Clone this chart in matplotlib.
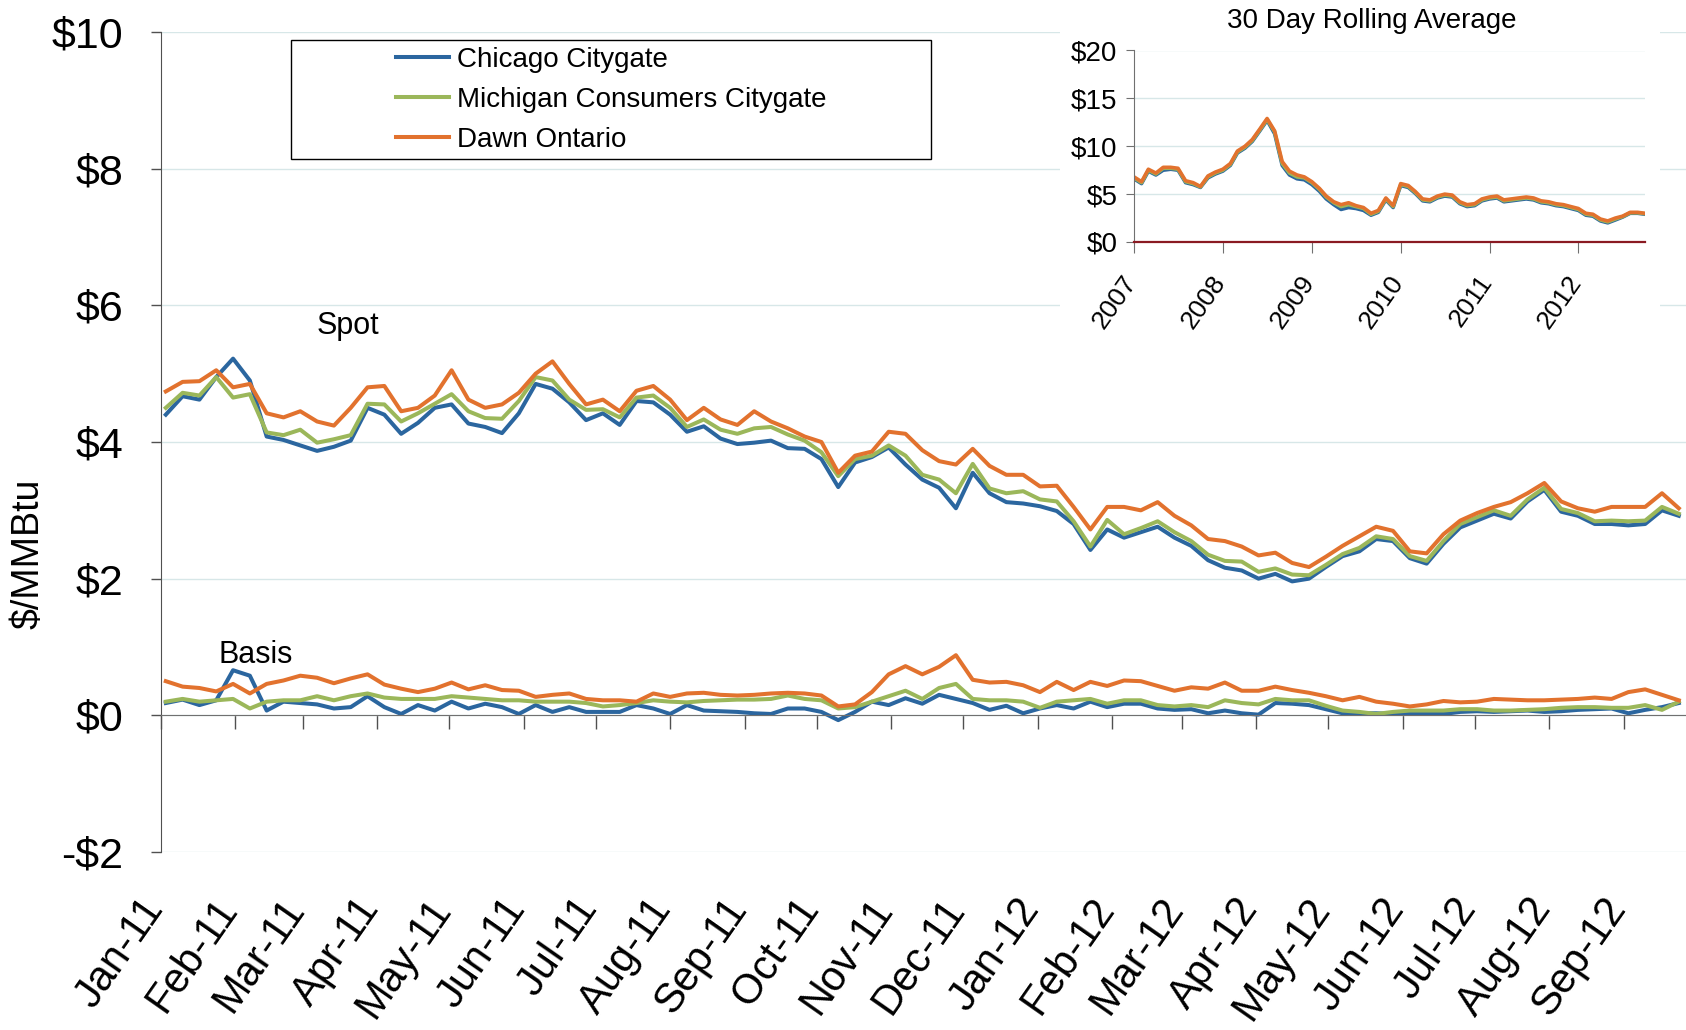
import numpy as np
import pandas as pd
import matplotlib
matplotlib.use('Agg')
import matplotlib.pyplot as plt
import matplotlib.dates as mdates
import matplotlib.transforms as mtransforms
from matplotlib.patches import Rectangle

plt.rcParams['font.family'] = ['Liberation Sans', 'DejaVu Sans']

# weekly prices, $/MMBtu, first Monday of 2011 onwards
week_start = '2011-01-03'
n_weeks = 91

chicago_spot = [
    4.40, 4.67, 4.62, 4.95, 5.22, 4.90, 4.08, 4.03, 3.95, 3.87, 3.93, 4.02, 4.50, 4.40, 4.12, 4.28,
    4.50, 4.55, 4.27, 4.22, 4.13, 4.42, 4.85, 4.78, 4.58, 4.32, 4.42, 4.25, 4.60, 4.58, 4.40,
    4.15, 4.23, 4.05, 3.97, 3.99, 4.02, 3.91, 3.90, 3.75, 3.34, 3.70, 3.78, 3.92, 3.67, 3.45,
    3.33, 3.03, 3.55, 3.25, 3.12, 3.10, 3.06, 2.99, 2.80, 2.42, 2.72, 2.60, 2.68, 2.76, 2.60,
    2.48, 2.27, 2.16, 2.12, 2.00, 2.07, 1.96, 2.00, 2.17, 2.33, 2.40, 2.58, 2.55, 2.30, 2.22,
    2.51, 2.75, 2.85, 2.95, 2.88, 3.13, 3.30, 2.98, 2.92, 2.80, 2.80, 2.78, 2.80, 3.00, 2.92,
]
michigan_spot = [
    4.50, 4.72, 4.68, 4.95, 4.65, 4.70, 4.14, 4.10, 4.18, 3.99, 4.04, 4.10, 4.56, 4.55, 4.30, 4.42,
    4.56, 4.70, 4.45, 4.35, 4.34, 4.60, 4.95, 4.90, 4.62, 4.47, 4.48, 4.36, 4.65, 4.68, 4.50,
    4.22, 4.33, 4.18, 4.12, 4.20, 4.22, 4.11, 4.02, 3.85, 3.50, 3.75, 3.80, 3.95, 3.80, 3.52,
    3.45, 3.25, 3.68, 3.32, 3.25, 3.28, 3.16, 3.13, 2.84, 2.47, 2.86, 2.65, 2.74, 2.84, 2.68,
    2.55, 2.35, 2.26, 2.25, 2.10, 2.15, 2.06, 2.05, 2.20, 2.36, 2.45, 2.62, 2.58, 2.33, 2.26,
    2.55, 2.80, 2.90, 3.00, 2.92, 3.16, 3.33, 3.02, 2.96, 2.84, 2.85, 2.84, 2.85, 3.05, 2.95,
]
dawn_spot = [
    4.74, 4.88, 4.89, 5.05, 4.80, 4.85, 4.42, 4.36, 4.45, 4.30, 4.24, 4.50, 4.80, 4.82, 4.45, 4.50,
    4.68, 5.05, 4.62, 4.50, 4.55, 4.72, 5.00, 5.18, 4.85, 4.55, 4.62, 4.45, 4.75, 4.82, 4.62,
    4.32, 4.50, 4.33, 4.25, 4.45, 4.30, 4.20, 4.08, 4.00, 3.55, 3.80, 3.86, 4.15, 4.12, 3.88,
    3.72, 3.67, 3.90, 3.65, 3.52, 3.52, 3.35, 3.36, 3.05, 2.72, 3.05, 3.05, 3.00, 3.12, 2.92,
    2.78, 2.58, 2.55, 2.47, 2.34, 2.38, 2.23, 2.17, 2.32, 2.48, 2.62, 2.76, 2.70, 2.40, 2.37,
    2.65, 2.85, 2.96, 3.05, 3.12, 3.25, 3.40, 3.13, 3.03, 2.98, 3.05, 3.05, 3.05, 3.25, 3.03,
]

chicago_basis = [
    0.18, 0.23, 0.15, 0.22, 0.66, 0.58, 0.07, 0.20, 0.18, 0.16, 0.10, 0.12, 0.28, 0.12, 0.02, 0.15,
    0.07, 0.20, 0.10, 0.17, 0.12, 0.02, 0.15, 0.05, 0.12, 0.05, 0.05, 0.05, 0.15, 0.10, 0.02,
    0.15, 0.07, 0.06, 0.05, 0.03, 0.02, 0.10, 0.10, 0.05, -0.07, 0.05, 0.20, 0.15, 0.25, 0.17,
    0.30, 0.24, 0.18, 0.08, 0.14, 0.03, 0.10, 0.15, 0.10, 0.20, 0.12, 0.17, 0.17, 0.10, 0.08,
    0.09, 0.03, 0.07, 0.03, 0.01, 0.18, 0.17, 0.15, 0.09, 0.03, 0.03, 0.03, 0.02, 0.02, 0.02,
    0.02, 0.05, 0.06, 0.05, 0.06, 0.07, 0.05, 0.06, 0.08, 0.09, 0.10, 0.03, 0.08, 0.12, 0.18,
]
michigan_basis = [
    0.20, 0.24, 0.20, 0.22, 0.24, 0.10, 0.20, 0.22, 0.22, 0.28, 0.22, 0.28, 0.32, 0.26, 0.24, 0.24,
    0.24, 0.28, 0.26, 0.24, 0.22, 0.22, 0.20, 0.20, 0.20, 0.18, 0.13, 0.15, 0.18, 0.22, 0.20,
    0.19, 0.21, 0.22, 0.23, 0.23, 0.24, 0.29, 0.24, 0.22, 0.10, 0.12, 0.20, 0.28, 0.36, 0.24,
    0.40, 0.46, 0.24, 0.22, 0.22, 0.20, 0.11, 0.20, 0.22, 0.24, 0.17, 0.22, 0.22, 0.15, 0.13,
    0.15, 0.12, 0.22, 0.18, 0.16, 0.24, 0.22, 0.22, 0.14, 0.07, 0.05, 0.02, 0.05, 0.07, 0.07,
    0.07, 0.09, 0.09, 0.07, 0.07, 0.08, 0.09, 0.11, 0.12, 0.12, 0.11, 0.11, 0.15, 0.08, 0.20,
]
dawn_basis = [
    0.50, 0.42, 0.40, 0.35, 0.46, 0.32, 0.46, 0.51, 0.58, 0.55, 0.47, 0.54, 0.60, 0.45, 0.39, 0.34,
    0.39, 0.48, 0.38, 0.44, 0.37, 0.36, 0.27, 0.30, 0.32, 0.24, 0.22, 0.22, 0.20, 0.32, 0.27,
    0.32, 0.33, 0.30, 0.29, 0.30, 0.32, 0.33, 0.32, 0.29, 0.13, 0.16, 0.34, 0.60, 0.72, 0.60,
    0.71, 0.88, 0.52, 0.48, 0.49, 0.44, 0.34, 0.49, 0.37, 0.49, 0.43, 0.51, 0.50, 0.43, 0.36,
    0.41, 0.39, 0.48, 0.36, 0.36, 0.42, 0.37, 0.33, 0.28, 0.22, 0.27, 0.20, 0.17, 0.13, 0.16,
    0.21, 0.19, 0.20, 0.24, 0.23, 0.22, 0.22, 0.23, 0.24, 0.26, 0.24, 0.34, 0.38, 0.30, 0.22,
]

# 30 day rolling average, monthly from Jan 2007
roll_start = '2007-01-01'
chicago_roll = [
    6.6, 6.1, 7.4, 7.0, 7.5, 7.6, 7.5, 6.2, 6.0, 5.7, 6.7, 7.1,
    7.4, 8.0, 9.3, 9.8, 10.5, 11.6, 12.7, 11.3, 8.0, 7.0, 6.6, 6.5,
    6.0, 5.3, 4.5, 3.9, 3.4, 3.6, 3.5, 3.3, 2.8, 3.1, 4.4, 3.6,
    5.9, 5.7, 5.1, 4.3, 4.2, 4.6, 4.8, 4.7, 4.0, 3.7, 3.8, 4.3,
    4.5, 4.6, 4.2, 4.3, 4.4, 4.5, 4.4, 4.1, 4.0, 3.8, 3.7, 3.5,
    3.3, 2.8, 2.7, 2.2, 2.0, 2.3, 2.6, 3.0, 3.0, 2.9,
]
michigan_roll = [
    6.7, 6.2, 7.5, 7.1, 7.7, 7.7, 7.6, 6.3, 6.1, 5.75, 6.8, 7.2,
    7.5, 8.1, 9.4, 9.9, 10.6, 11.7, 12.8, 11.5, 8.2, 7.2, 6.8, 6.7,
    6.2, 5.5, 4.7, 4.1, 3.7, 3.9, 3.7, 3.5, 2.9, 3.2, 4.5, 3.7,
    6.0, 5.8, 5.2, 4.4, 4.3, 4.7, 4.9, 4.8, 4.1, 3.8, 3.9, 4.4,
    4.6, 4.7, 4.3, 4.4, 4.5, 4.6, 4.5, 4.2, 4.1, 3.9, 3.8, 3.6,
    3.4, 2.9, 2.8, 2.3, 2.1, 2.4, 2.65, 3.05, 3.05, 2.95,
]
dawn_roll = [
    6.8, 6.3, 7.6, 7.2, 7.8, 7.8, 7.7, 6.4, 6.2, 5.8, 6.9, 7.3,
    7.6, 8.2, 9.5, 10.0, 10.7, 11.8, 12.9, 11.6, 8.4, 7.4, 7.0, 6.8,
    6.3, 5.6, 4.8, 4.2, 3.9, 4.1, 3.8, 3.6, 3.0, 3.3, 4.6, 3.8,
    6.1, 5.9, 5.3, 4.5, 4.4, 4.8, 5.0, 4.9, 4.2, 3.9, 4.0, 4.5,
    4.7, 4.8, 4.4, 4.5, 4.6, 4.7, 4.6, 4.3, 4.2, 4.0, 3.9, 3.7,
    3.5, 3.0, 2.9, 2.4, 2.2, 2.5, 2.7, 3.1, 3.1, 3.0,
]

names = ['Chicago Citygate', 'Michigan Consumers Citygate', 'Dawn Ontario']
colors = ['#2b669f', '#9bb75a', '#e2722e']
grid_col = '#d7e7e8'

dates = pd.date_range(week_start, periods=n_weeks, freq='7D')
roll_dates = pd.date_range(roll_start, periods=len(dawn_roll), freq='MS')

W, H = 1686, 1030
fig = plt.figure(figsize=(W / 100, H / 100), dpi=100)

# ---- main chart ----
ax = fig.add_axes([161 / W, 1 - 852 / H, (W - 161) / W, (852 - 32) / H])
spots = [chicago_spot, michigan_spot, dawn_spot]
bases = [chicago_basis, michigan_basis, dawn_basis]
lines = []
for name, c, s, b in zip(names, colors, spots, bases):
    l, = ax.plot(dates, s, color=c, lw=2.9, label=name)
    ax.plot(dates, b, color=c, lw=2.9)
    lines.append(l)

ax.set_xlim(pd.Timestamp('2011-01-01'), pd.Timestamp('2012-09-27'))
ax.set_ylim(-2, 10)
yt = [-2, 0, 2, 4, 6, 8, 10]
ax.set_yticks(yt)
ax.set_yticklabels([('-$%d' % abs(v)) if v < 0 else ('$%d' % v) for v in yt], fontsize=31)
ax.grid(axis='y', color=grid_col, lw=1)
ax.set_axisbelow(True)
for s in ['top', 'right']:
    ax.spines[s].set_visible(False)
ax.spines['left'].set_color('#505050')
ax.spines['bottom'].set_position(('data', 0))
ax.spines['bottom'].set_color('#707070')
ax.tick_params(axis='y', length=7, width=1, color='#505050', pad=20)

months = pd.date_range('2011-01-01', '2012-09-01', freq='MS')
ax.set_xticks(months)
ax.set_xticklabels([])
ax.tick_params(axis='x', length=10, width=1, color='#505050', direction='out')
lab_tr = mtransforms.offset_copy(ax.get_xaxis_transform(), fig=fig, x=-6, y=-50, units='dots')
for m in months:
    ax.text(m, 0, m.strftime('%b-%y'), transform=lab_tr, rotation=55, rotation_mode='anchor',
            ha='right', va='center', fontsize=30)

ax.text(pd.Timestamp('2011-03-07'), 5.70, 'Spot', fontsize=22, va='center', ha='left')
ax.text(pd.Timestamp('2011-01-25'), 0.89, 'Basis', fontsize=22, va='center', ha='left')

fig.text(29 / W, 1 - 554 / H, '$/MMBtu', rotation=90, ha='center', va='center', fontsize=27)

# legend box
fig.patches.append(Rectangle((291 / W, 1 - 159 / H), 640 / W, 119 / H, transform=fig.transFigure,
                             facecolor='white', edgecolor='black', lw=1, zorder=1))
leg = fig.legend(handles=lines, loc='upper left', bbox_to_anchor=(396 / W, 1 - 47 / H),
                 frameon=False, fontsize=20, handlelength=1.9, handletextpad=0.3,
                 labelspacing=0.5, borderpad=0, borderaxespad=0)
leg.set_zorder(2)

# ---- inset: 30 day rolling average ----
fig.patches.append(Rectangle((1060 / W, 1 - 335 / H), 600 / W, 335 / H, transform=fig.transFigure,
                             facecolor='white', edgecolor='none', zorder=1))
axi = fig.add_axes([1134 / W, 1 - 242 / H, (1645 - 1134) / W, (242 - 50.5) / H], zorder=3)
for name, c, r in zip(names, colors, [chicago_roll, michigan_roll, dawn_roll]):
    axi.plot(roll_dates, r, color=c, lw=2.6)
axi.set_xlim(pd.Timestamp('2007-01-01'), pd.Timestamp('2012-10-01'))
axi.set_ylim(0, 20)
axi.set_yticks([0, 5, 10, 15, 20])
axi.set_yticklabels(['$0', '$5', '$10', '$15', '$20'], fontsize=20)
axi.grid(axis='y', color=grid_col, lw=1)
axi.set_axisbelow(True)
for s in ['top', 'right']:
    axi.spines[s].set_visible(False)
axi.spines['left'].set_color('#707070')
axi.spines['bottom'].set_color('#8a1a22')
axi.spines['bottom'].set_linewidth(1.6)
axi.tick_params(axis='y', length=6, color='#707070', pad=6)
years = pd.date_range('2007-01-01', '2012-01-01', freq='YS')
axi.set_xticks(years)
axi.set_xticklabels([])
axi.tick_params(axis='x', length=8, color='#707070')
yr_tr = mtransforms.offset_copy(axi.get_xaxis_transform(), fig=fig, x=-2, y=-36, units='dots')
for y in years:
    axi.text(y, 0, y.strftime('%Y'), transform=yr_tr, rotation=55, rotation_mode='anchor',
             ha='right', va='center', fontsize=19)
fig.text(1372 / W, 1 - 21 / H, '30 Day Rolling Average', ha='center', va='center', fontsize=20)

fig.savefig('out.png', dpi=100)
